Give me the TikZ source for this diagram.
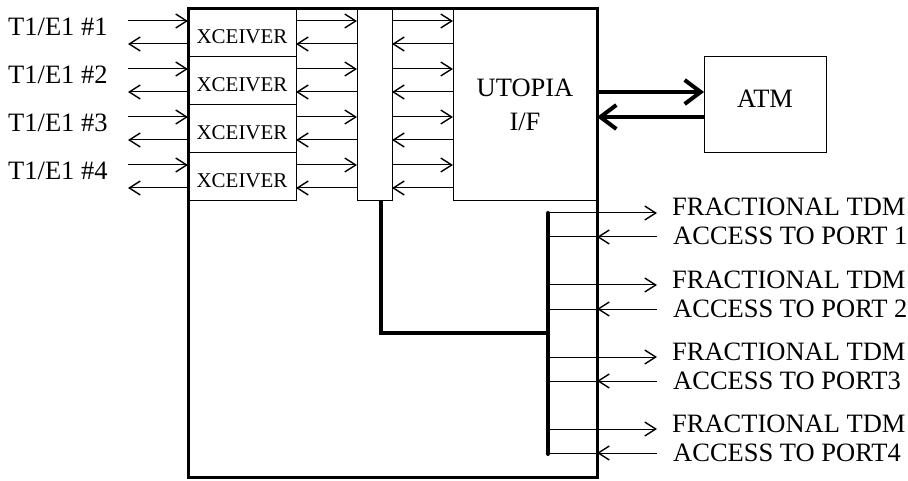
\documentclass[tikz,border=0pt]{standalone}
\usepackage{fontspec}
\setmainfont{Liberation Serif}
\usetikzlibrary{arrows.meta}

\begin{document}
\begin{tikzpicture}[x=1pt,y=-1pt,
        box/.style={draw,line width=1pt,rectangle,inner sep=0pt,outer sep=0pt,anchor=north west},
        arr/.style={line width=1pt,-{Straight Barb[length=11pt,width=14pt,line width=1.4pt]}},
        fat/.style={line width=4pt,-{Straight Barb[length=16pt,width=24pt]}},
        big/.style={font=\fontsize{26.5}{32}\selectfont}]
    \useasboundingbox (0,0) rectangle (908,481);
    %% Card
    \node[draw,line width=3pt,inner sep=0pt,outer sep=0pt,minimum width=409pt,minimum height=468pt,anchor=north west] (main) at (188,9) {};
    %% Transceivers and line labels
    \foreach \i in {1,...,4}{
        \node[box,minimum width=108pt,minimum height=48pt,font=\fontsize{21}{24}\selectfont,text height=22pt] (x\i) at (188,{9+48*(\i-1)}) {XCEIVER};
        \node[big,anchor=base west,inner sep=0pt] (t\i) at (8,{36+48*(\i-1)}) {T1/E1 \#\i};
    }
    %% Mux, UTOPIA, ATM
    \node[box,minimum width=35pt,minimum height=192pt] (mux) at (357,9) {};
    \node[box,minimum width=144pt,minimum height=192pt] (utopia) at (453,9) {};
    \node[big,align=center,anchor=north,inner sep=0pt] (utxt) at (525,79) {UTOPIA\\[2pt]I/F};
    \node[box,big,minimum width=122pt,minimum height=96pt,text depth=12pt] (atm) at (704,57) {ATM};
    %% Line side
    \foreach \i in {1,...,4}{
        \draw[arr] ([xshift=-60pt,yshift=12pt]x\i.west) -- ([yshift=12pt]x\i.west);
        \draw[arr] ([yshift=-11pt]x\i.west) -- ([xshift=-60pt,yshift=-11pt]x\i.west);
        \draw[arr] ([yshift=12pt]x\i.east) -- ([yshift=12pt]x\i.east -| mux.west);
        \draw[arr] ([yshift=-11pt]x\i.east -| mux.west) -- ([yshift=-11pt]x\i.east);
        \draw[arr] ([yshift=12pt]x\i.east -| mux.east) -- ([yshift=12pt]x\i.east -| utopia.west);
        \draw[arr] ([yshift=-11pt]x\i.east -| utopia.west) -- ([yshift=-11pt]x\i.east -| mux.east);
    }
    %% ATM link
    \draw[fat] ([yshift=13pt]atm.west -| utopia.east) -- ([yshift=13pt]atm.west);
    \draw[fat] ([yshift=-12pt]atm.west) -- ([yshift=-12pt]atm.west -| utopia.east);
    %% TDM bus
    \coordinate (bt) at (548,213);
    \coordinate (bj) at (548,333);
    \coordinate (bb) at (548,454);
    \draw[line width=4pt] ([xshift=6pt]mux.south) |- (bj);
    \draw[line width=4pt,line cap=round] (bt) -- (bb);
    \foreach \k/\p in {1/PORT 1,2/PORT 2,3/PORT3,4/PORT4}{
        \coordinate (o\k) at (657,{213+72*(\k-1)});
        \coordinate (i\k) at (657,{237+72*(\k-1)});
        \draw[arr] (o\k -| bt) -- (o\k);
        \draw[line width=1pt] (i\k) -- (i\k -| bt);
        \draw[arr] (i\k) -- (i\k -| main.east);
        \node[big,anchor=base west,inner sep=0pt] (f\k) at (672,{216+72*(\k-1)}) {FRACTIONAL TDM};
        \node[big,anchor=base west,inner sep=0pt] (a\k) at (673,{245+72*(\k-1)}) {ACCESS TO \p};
    }
\end{tikzpicture}
\end{document}
